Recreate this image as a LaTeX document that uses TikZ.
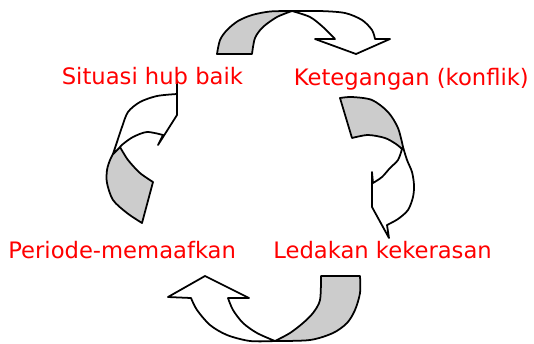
\documentclass[tikz,border=0pt]{standalone}
\usepackage{fontspec}
\setmainfont{DejaVu Sans}
\usetikzlibrary{positioning}
\definecolor{ribbongray}{RGB}{204,204,204}

\begin{document}
\begin{tikzpicture}[x=0.02cm, y=-0.02cm, line join=round,
  front/.style={draw=black, line width=1pt, fill=white},
  back/.style={draw=black, line width=1pt, fill=ribbongray},
  lbl/.style={text=red, inner sep=0pt, anchor=base west, font=\fontsize{12.9}{15}\selectfont}]
  \useasboundingbox (0,0) rectangle (534,343);
  % Top arrow
  \filldraw[back] plot[smooth] coordinates
    {(217,54) (220,40) (227,30) (238,21) (252,15) (270,11.5) (292,11)}
    -- plot[smooth] coordinates {(292,11) (277,17) (263,27) (255,38) (252,54)} -- cycle;
  \filldraw[front] plot[smooth] coordinates
    {(292,11) (320,11) (345,13) (362,20) (372,30) (375,39)}
    -- (390,39) -- (356,54) -- (315,39) -- (335,39)
    -- plot[smooth] coordinates {(335,39) (323,27) (310,17) (292,11)} -- cycle;
  % Right arrow
  \filldraw[back] plot[smooth] coordinates
    {(340,98) (352,97) (372,100) (388,112) (398,128) (403,147)}
    -- (402,149)
    -- plot[smooth] coordinates {(402,149) (396,144) (385,138) (368,135) (352,138)} -- cycle;
  \filldraw[front] plot[smooth] coordinates
    {(403,147) (407,160) (412,172) (414,185) (413,197) (408,210) (398,219) (387,225)}
    -- (389,238) -- (372,207) -- (372,172) -- (373,183)
    -- plot[smooth] coordinates {(373,183) (382,177) (390,168) (398,160) (402,149)} -- cycle;
  % Bottom arrow
  \filldraw[back] (321,276) -- (360,276)
    -- plot[smooth] coordinates {(360,276) (360,293) (355,310) (347,323) (333,333) (310,340) (275,341)}
    -- plot[smooth] coordinates {(275,341) (290,333) (303,323) (313,313) (320,300) (321,276)} -- cycle;
  \filldraw[front] plot[smooth] coordinates
    {(275,341) (250,341) (227,335) (210,325) (197,310) (191,298)}
    -- (168,297) -- (205,276) -- (249,298) -- (228,298)
    -- plot[smooth] coordinates {(228,298) (233,310) (243,323) (257,333) (275,341)} -- cycle;
  % Left arrow
  \filldraw[back] (120,147)
    -- plot[smooth] coordinates {(120,147) (128,160) (140,173) (153,182)}
    -- (142,223)
    -- plot[smooth] coordinates {(142,223) (127,213) (113,200) (107,183) (107,170) (110,160) (113,154)} -- cycle;
  \filldraw[front] plot[smooth] coordinates
    {(113,154) (117,142) (122,127) (128,112) (140,102) (157,96) (177,94)}
    -- (177,82) -- (177,115) -- (158,145) -- (163,135)
    -- plot[smooth] coordinates {(163,135) (147,132) (133,137) (123,144) (120,147)} -- cycle;
  % Labels
  \node[lbl] (sit) at (61.5,84) {Situasi hub baik};
  \node[lbl] (ket) at (293.5,85) {Ketegangan (konflik)};
  \node[lbl] (led) at (273,258) {Ledakan kekerasan};
  \node[lbl] (per) at (8,258) {Periode-memaafkan};
\end{tikzpicture}
\end{document}
